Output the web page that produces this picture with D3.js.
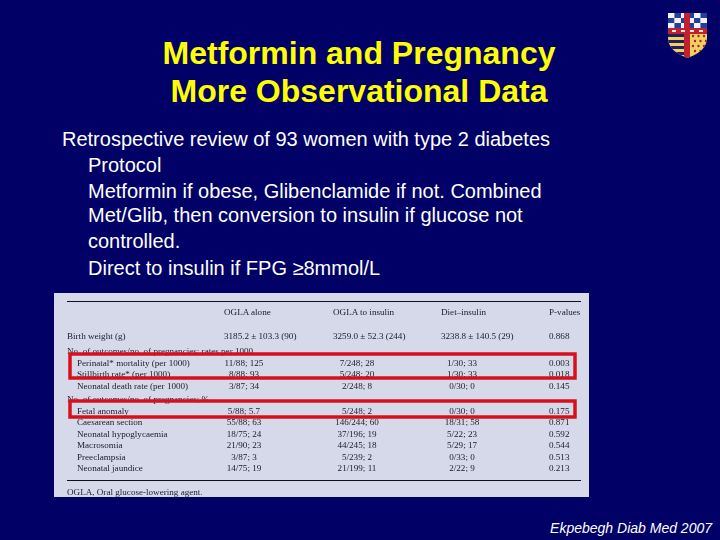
<!DOCTYPE html>
<html>
<head>
<meta charset="utf-8">
<script src="https://cdn.jsdelivr.net/npm/d3@7"></script>
<style>
    html, body { margin: 0; padding: 0; background: #000066; }
    svg { display: block; }
    .title { font: bold 32px "Liberation Sans", Arial, sans-serif; fill: #ffff00; text-anchor: middle; }
    .body { font: 20px "Liberation Sans", Arial, sans-serif; fill: #ffffff; }
    .cite { font: italic 14px "Liberation Sans", Arial, sans-serif; fill: #ffffff; }
    .cell { font: 9.1px "Liberation Serif", serif; fill: #1c1c28; }
</style>
</head>
<body>
<div id="vis"></div>
<script>
const titleLines = ["Metformin and Pregnancy", "More Observational Data"];
const bodyLines = [
    ["Retrospective review of 93 women with type 2 diabetes", 0],
    ["Protocol", 1],
    ["Metformin if obese, Glibenclamide if not. Combined", 1],
    ["Met/Glib, then conversion to insulin if glucose not", 1],
    ["controlled.", 1],
    ["Direct to insulin if FPG ≥8mmol/L", 1]
];
const citation = "Ekpebegh Diab Med 2007";

const columns = ["OGLA alone", "OGLA to insulin", "Diet–insulin", "P-values"];
const birthWeight = ["Birth weight (g)", "3185.2 ± 103.3 (90)", "3259.0 ± 52.3 (244)", "3238.8 ± 140.5 (29)", "0.868"];
const outcomesHeading = "No. of outcomes/no. of pregnancies; rates per 1000";
const outcomeRows = [
    ["Perinatal* mortality (per 1000)", "11/88; 125", "7/248; 28", "1/30; 33", "0.003"],
    ["Stillbirth rate* (per 1000)", "8/88; 93", "5/248; 20", "1/30; 33", "0.018"],
    ["Neonatal death rate (per 1000)", "3/87; 34", "2/248; 8", "0/30; 0", "0.145"]
];
const complicationsHeading = "No. of outcomes/no. of pregnancies; %";
const complicationRows = [
    ["Fetal anomaly", "5/88; 5.7", "5/248; 2", "0/30; 0", "0.175"],
    ["Caesarean section", "55/88; 63", "146/244; 60", "18/31; 58", "0.871"],
    ["Neonatal hypoglycaemia", "18/75; 24", "37/196; 19", "5/22; 23", "0.592"],
    ["Macrosomia", "21/90; 23", "44/245; 18", "5/29; 17", "0.544"],
    ["Preeclampsia", "3/87; 3", "5/239; 2", "0/33; 0", "0.513"],
    ["Neonatal jaundice", "14/75; 19", "21/199; 11", "2/22; 9", "0.213"]
];
const footnote = "OGLA, Oral glucose-lowering agent.";

function init() {
    const svg = d3.select('#vis').append('svg')
        .attr('width', 720)
        .attr('height', 540);

    svg.append('rect').attr('width', 720).attr('height', 540).attr('fill', '#000066');

    // slight blur, the table in the slide is a low res scan
    svg.append('defs').append('filter').attr('id', 'soft')
        .append('feGaussianBlur').attr('stdDeviation', 0.35);

    svg.selectAll('.title')
        .data(titleLines)
        .join('text')
        .attr('class', 'title')
        .attr('x', 359)
        .attr('y', (d, i) => 64 + i * 38)
        .text(d => d);

    const bodyBaselines = [146, 172, 198, 222, 248, 275];
    svg.selectAll('.body')
        .data(bodyLines)
        .join('text')
        .attr('class', 'body')
        .attr('x', d => d[1] ? 88 : 62)
        .attr('y', (d, i) => bodyBaselines[i])
        .text(d => d[0]);

    svg.append('text')
        .attr('class', 'cite')
        .attr('x', 712)
        .attr('y', 533)
        .attr('text-anchor', 'end')
        .text(citation);

    drawTable(svg);
    drawCrest(svg);
}

function drawTable(svg) {
    const table = svg.append('g');

    table.append('rect')
        .attr('x', 54).attr('y', 293)
        .attr('width', 535).attr('height', 204)
        .attr('fill', '#d5d9e9');

    [301.5, 480.5].forEach(y => {
        table.append('line')
            .attr('x1', 67).attr('x2', 581)
            .attr('y1', y).attr('y2', y)
            .attr('stroke', '#10101c');
    });

    const text = table.append('g').attr('filter', 'url(#soft)');

    const colStart = [224, 333, 441, 549];
    const colMid = [244, 357, 462, 549];

    text.selectAll('.head')
        .data(columns)
        .join('text')
        .attr('class', 'cell')
        .attr('x', (d, i) => colStart[i])
        .attr('y', 315)
        .text(d => d);

    birthWeight.forEach((d, i) => {
        text.append('text')
            .attr('class', 'cell')
            .attr('x', i == 0 ? 67 : colStart[i - 1])
            .attr('y', 339)
            .text(d);
    });

    const rowY = d3.scaleLinear().domain([0, 1]).range([0, 11.55]);

    function addGroup(heading, rows, top) {
        text.append('text')
            .attr('class', 'cell')
            .attr('x', 67)
            .attr('y', top)
            .text(heading);

        rows.forEach((row, r) => {
            const y = top + rowY(r + 1);
            text.append('text')
                .attr('class', 'cell')
                .attr('x', 77)
                .attr('y', y)
                .text(row[0]);

            row.slice(1).forEach((v, i) => {
                text.append('text')
                    .attr('class', 'cell')
                    .attr('x', colMid[i])
                    .attr('y', y)
                    .attr('text-anchor', i == 3 ? 'start' : 'middle')
                    .text(v);
            });
        });
    }
    addGroup(outcomesHeading, outcomeRows, 354);
    addGroup(complicationsHeading, complicationRows, 402);

    text.append('text')
        .attr('class', 'cell')
        .attr('x', 67)
        .attr('y', 495)
        .text(footnote);

    // red highlight boxes
    [[354, 378], [401, 417]].forEach(b => {
        table.append('rect')
            .attr('x', 70).attr('y', b[0])
            .attr('width', 505).attr('height', b[1] - b[0])
            .attr('fill', 'none')
            .attr('stroke', '#d8101c')
            .attr('stroke-width', 3.5);
    });
}

function drawCrest(svg) {
    const crest = svg.append('g');
    crest.append('clipPath').attr('id', 'shield')
        .append('path')
        .attr('d', 'M668,13 H707 V38 Q707,51 687.5,58 Q668,51 668,38 Z');

    const inner = crest.append('g').attr('clip-path', 'url(#shield)');
    inner.append('rect').attr('x', 668).attr('y', 13).attr('width', 39).attr('height', 45).attr('fill', '#f0d060');

    // top quarters: blue and white checks
    d3.range(3).forEach(r => {
        d3.range(6).forEach(c => {
            inner.append('rect')
                .attr('x', 668 + c * 6.5).attr('y', 13 + r * 5)
                .attr('width', 6.5).attr('height', 5)
                .attr('fill', (r + c) % 2 ? '#2040a0' : '#f4f4f8');
        });
    });

    // bottom left stripes
    d3.range(4).forEach(r => {
        inner.append('rect')
            .attr('x', 668).attr('y', 34 + r * 6)
            .attr('width', 17).attr('height', 3)
            .attr('fill', '#202060');
    });

    // bottom right dots
    d3.range(4).forEach(r => {
        d3.range(3).forEach(c => {
            inner.append('circle')
                .attr('cx', 693 + c * 5.5 + (r % 2) * 2).attr('cy', 36 + r * 5)
                .attr('r', 1.2)
                .attr('fill', '#b02020');
        });
    });

    // cross and band
    inner.append('rect').attr('x', 684).attr('y', 13).attr('width', 6).attr('height', 45).attr('fill', '#c02030');
    inner.append('rect').attr('x', 668).attr('y', 28).attr('width', 39).attr('height', 6).attr('fill', '#c02030');
    d3.range(4).forEach(c => {
        inner.append('rect')
            .attr('x', 672 + c * 9).attr('y', 30)
            .attr('width', 4).attr('height', 2)
            .attr('fill', '#f4e8d0');
    });
}

window.addEventListener('load', init);
</script>
</body>
</html>
